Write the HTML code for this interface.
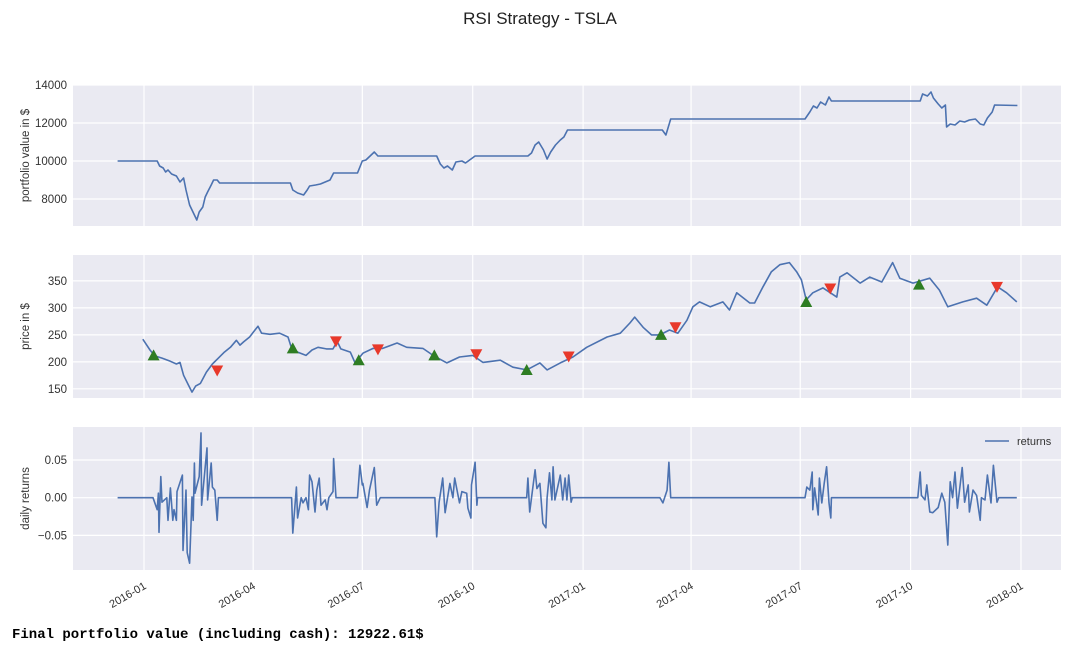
<!DOCTYPE html>
<html><head><meta charset="utf-8"><style>
body{margin:0;background:#fff;}
svg{display:block;font-family:"Liberation Sans",sans-serif;}
.final{position:absolute;left:12px;top:627px;font-family:"Liberation Mono",monospace;font-weight:bold;font-size:14px;color:#000;}
</style></head><body>
<div style="position:relative;width:1080px;height:657px;">
<svg id="chart" width="1080" height="657"></svg>
<div class="final">Final portfolio value (including cash): 12922.61$</div>
</div>
<script>
// days offset from 2016-01-01
const pvDays=[-22,11,13,16,18,20,23,27,30,33,35,38,42,44,46,49,51,53,56,58,61,63,122,124,128,133,136,138,143,147,155,158,178,182,185,192,195,244,247,250,253,257,260,265,268,276,320,323,326,329,333,336,339,343,347,350,353,432,435,439,551,555,558,561,564,568,571,573,647,649,653,656,658,662,665,668,669,672,676,680,684,688,693,697,700,703,707,709,728];
const pvValues=[10000,10000,9737,9632,9421,9526,9316,9210,8895,9105,8474,7684,7158,6895,7316,7579,8105,8368,8737,9000,9000,8842,8842,8474,8316,8211,8474,8684,8737,8789,9000,9368,9368,10000,10053,10474,10263,10263,9842,9632,9737,9526,9947,10000,9895,10263,10263,10421,10842,11000,10579,10105,10474,10842,11105,11263,11632,11632,11368,12211,12211,12579,12895,12789,13105,12947,13368,13158,13158,13526,13421,13632,13316,13000,12789,12947,11789,11947,11895,12105,12053,12158,12211,11947,11895,12263,12579,12947,12922];
const priceDays=[-1,5,9,15,22,27,30,33,37,40,43,47,52,57,62,67,72,77,80,83,88,92.5,95,98,105,113,120,123,128,135,140,145,152,157.5,161,164,172,176,182.5,191,199,211,219,232.5,241,252.5,263,274,282.5,297,307.5,319,330,336,347,357.5,369,386,397,405,409,416,423,430,438,445,452.5,457.5,463,472,482.5,488,494,505,509,516,523,530,538,544,548,552,557.5,566,577.5,580,586,597,605,615,624,630,641,655,663,670,682.5,694,702.5,711.5,719,727.5];
const priceValues=[242,222,211,207,201,196,199,175,157,144,155,160,181,196,207,218,227,240,231,237,246,259,266,253,251,253,246,225,218,212,222,227,224,224,238,224,218,198,216,225,225,235,227,225,212,198,209,212,199,203,190,185,198,185,198,209,227,246,253,272,283,264,250,250,259,253,277,302,311,302,311,296,328,309,309,339,367,380,384,367,352,315,328,337,320,357,365,346,357,348,384,355,346,355,333,302,311,318,305,339,328,311];
const buyDays=[8,124,179,242,319,431,552,646];
const buyPrices=[212,225,203,212,185,250,311,343];
const sellDays=[61,160,195,277,354,443,572,711];
const sellPrices=[184,238,223,214,210,264,336,339];
const retDays=[-22,7.5,11,12,12.5,14,15,19,20,22,24,25,27,27.5,32,32.5,35,36,38,40,41,42,42.5,46,47.5,48,52.5,53,56,57,59,61,62,123,124,127,128,131,132.5,135,137,138,140,142.5,144,146,147.5,151,152.5,154,157.5,158,160,178,180,182,182.5,186,188,192,194,197,242.5,244,246,249,251,255,257.5,259,263,265,269,270,272.5,273,276,277.5,278,319,320,321.5,326,327.5,330,332.5,335,336,338,340,341,342.5,347,349,351,352.5,354,356,357,430,432.5,436,437.5,439,551,552.5,555,557,557.5,559,562,563,565,567,569,571,572.5,573,645,647,648,651,652.5,655,657.5,662,665,667.5,670,672,674,676,678,682,684,687,688,691,694,697,698,701,703,706,708,711,712.5,727.5];
const retValues=[0,0,-0.016,0.006,-0.046,0.028,-0.006,0,-0.03,0.013,-0.03,-0.016,-0.03,0.008,0.03,-0.07,0.01,-0.073,-0.087,0.001,-0.03,0.046,0.006,0.028,0.086,-0.01,0.066,-0.003,0.046,0.014,0.01,-0.03,0,0,-0.047,0.014,-0.027,0,-0.007,0,-0.016,0.03,0.021,-0.019,0.01,0.026,-0.01,-0.003,-0.016,0,0.008,0.052,0,0,0.043,0.017,0.019,-0.013,0.01,0.04,-0.01,0,0,-0.052,-0.006,0.026,-0.02,0.019,0,0.026,-0.007,0.008,0.006,-0.014,-0.027,0.017,0.047,-0.01,0,0,0.026,-0.019,0.037,0.012,0.019,-0.034,-0.04,0,0.033,-0.003,0.041,-0.003,0.03,-0.003,0.026,-0.003,0.03,-0.006,0,0,-0.007,0.01,0.047,0,0,0.014,0.01,0.034,-0.016,0.013,-0.023,0.026,-0.007,0.019,0.041,-0.007,-0.027,0,0,0.034,0.003,-0.003,0.017,-0.019,-0.02,-0.013,0.006,-0.006,-0.063,0.021,0,0.034,-0.014,0.04,-0.006,0.017,-0.019,0.01,0.003,-0.03,0,-0.003,0.03,-0.007,0.043,-0.006,0,0];
const xTickDays=[0,91,182,274,366,456,547,639,731];
const xTickLabels=['2016-01','2016-04','2016-07','2016-10','2017-01','2017-04','2017-07','2017-10','2018-01'];
const pvTicks=[8000,10000,12000,14000];
const priceTicks=[150,200,250,300,350];
const retTicks=[-0.05,0,0.05];
const retTickLabels=['\u22120.05','0.00','0.05'];

const NS='http://www.w3.org/2000/svg';
const svg=document.getElementById('chart');
const L=73,R=1061;
const x=d=>144+d*1.1997;
function mk(tag,attrs,parent){const e=document.createElementNS(NS,tag);for(const k in attrs)e.setAttribute(k,attrs[k]);(parent||svg).appendChild(e);return e;}
function txt(s,attrs,name){const t=mk('text',attrs);t.textContent=s;


return t;}

const title=txt('RSI Strategy - TSLA',{x:540,y:24,'text-anchor':'middle','font-size':17,fill:'#222'},'chart-title');

function panel(name,top,bot,vmin,vmax,ticks,labels,ylabel){
  const y=v=>bot-(v-vmin)/(vmax-vmin)*(bot-top);
  const g=mk('g',{});
  
  
  const bg=mk('rect',{x:L,y:top,width:R-L,height:bot-top,fill:'#eaeaf2'},g);
  
  
  xTickDays.forEach(d=>{const l=mk('line',{x1:x(d),x2:x(d),y1:top,y2:bot,stroke:'#fff','stroke-width':1.2},g);
    
    });
  ticks.forEach((v,i)=>{const l=mk('line',{x1:L,x2:R,y1:y(v),y2:y(v),stroke:'#fff','stroke-width':1.2},g);
    
    
    txt(labels[i],{x:67,y:y(v)+4,'text-anchor':'end','font-size':11.5,fill:'#333'},'y-tick-label');});
  const cy=(top+bot)/2;
  txt(ylabel,{x:0,y:0,transform:`translate(29,${cy}) rotate(-90)`,'text-anchor':'middle','font-size':11.5,fill:'#333'},'y-axis-title');
  return y;
}
function line(days,vals,y,name){
  const p=mk('polyline',{points:days.map((d,i)=>x(d).toFixed(1)+','+y(vals[i]).toFixed(1)).join(' '),fill:'none',stroke:'#4c72b0','stroke-width':1.6,'stroke-linejoin':'round'});
  
  
}
const y1=panel('portfolio-panel',85,226,6580,14000,pvTicks,pvTicks.map(String),'portfolio value in $');
line(pvDays,pvValues,y1,'portfolio-value-line');
const y2=panel('price-panel',255,398,133,398,priceTicks,priceTicks.map(String),'price in $');
line(priceDays,priceValues,y2,'price-line');
buyDays.forEach((d,i)=>{const cx=x(d),cy=y2(buyPrices[i]);
  const t=mk('polygon',{points:`${cx-6},${cy+5} ${cx+6},${cy+5} ${cx},${cy-6}`,fill:'#2e7d23'});
  
  });
sellDays.forEach((d,i)=>{const cx=x(d),cy=y2(sellPrices[i]);
  const t=mk('polygon',{points:`${cx-6},${cy-5} ${cx+6},${cy-5} ${cx},${cy+6}`,fill:'#e8392b'});
  
  });
const y3=panel('returns-panel',427,570,-0.096,0.0938,retTicks,retTickLabels,'daily returns');
line(retDays,retValues,y3,'returns-line');
xTickDays.forEach((d,i)=>{txt(xTickLabels[i],{x:0,y:0,transform:`translate(${x(d)+3},${588}) rotate(-30)`,'text-anchor':'end','font-size':11,fill:'#333'},'x-tick-label');});
const lg=mk('line',{x1:985,x2:1009,y1:441,y2:441,stroke:'#4c72b0','stroke-width':1.6});


txt('returns',{x:1017,y:445,'font-size':11,fill:'#333'},'legend-returns-label');
</script>
</body></html>
